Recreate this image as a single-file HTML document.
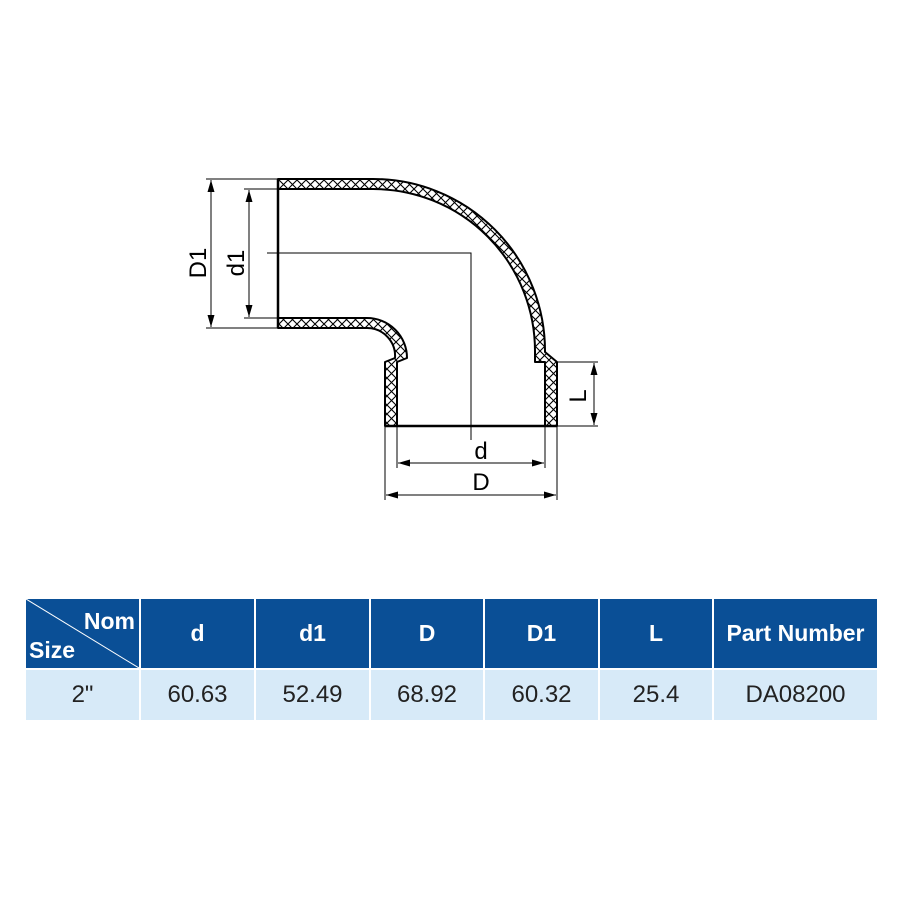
<!DOCTYPE html>
<html><head><style>
body{margin:0;background:#fff;}
.wrap{position:relative;width:900px;height:900px;overflow:hidden;font-family:"Liberation Sans",Arial,sans-serif;}
table{position:absolute;left:24px;top:597px;border-collapse:separate;border-spacing:2px;}
td{text-align:center;padding:0;}
.h td{background:#0a4f96;color:#fff;font-weight:bold;font-size:23px;height:69px;}
.r td{background:#d7eaf8;color:#222;font-size:24px;height:50px;}
</style></head><body><div class="wrap">
<svg width="900" height="590" style="position:absolute;left:0;top:0">
<defs>
<pattern id="x" width="9" height="9" patternUnits="userSpaceOnUse">
<rect width="9" height="9" fill="#fff"/>
<path d="M0,0L9,9M9,0L0,9" stroke="#000" stroke-width="1.1"/>
</pattern>
<marker id="a" markerWidth="12" markerHeight="7" refX="12" refY="3.5" orient="auto" markerUnits="userSpaceOnUse"><path d="M0,0L12,3.5L0,7Z" fill="#000"/></marker>
</defs>
<g stroke="#000" stroke-width="2" fill="url(#x)" stroke-linejoin="round">
<path d="M278,179 H373 A172 172 0 0 1 545,352 L557,362 V426 H545 V362 H535 V352 A162 162 0 0 0 373,189 H278 Z"/>
<path d="M278,318 H367 A40 40 0 0 1 407,358 L397,362 V426 H385 V362 L395,358 A28 28 0 0 0 367,328 H278 Z"/>
</g>
<g stroke="#000" stroke-width="2.5">
<line x1="278" y1="179" x2="278" y2="328"/>
<line x1="385" y1="426" x2="557" y2="426"/>
</g>
<g stroke="#000" stroke-width="1" fill="none">
<polyline points="267,253 471,253 471,440"/>
<line x1="206" y1="179" x2="278" y2="179"/>
<line x1="206" y1="328" x2="278" y2="328"/>
<line x1="244" y1="189" x2="278" y2="189"/>
<line x1="244" y1="318" x2="278" y2="318"/>
<line x1="557" y1="362" x2="598" y2="362"/>
<line x1="557" y1="426" x2="598" y2="426"/>
<line x1="385" y1="426" x2="385" y2="500"/>
<line x1="557" y1="426" x2="557" y2="500"/>
<line x1="397" y1="426" x2="397" y2="468"/>
<line x1="545" y1="426" x2="545" y2="468"/>
<line x1="211" y1="253" x2="211" y2="180" marker-end="url(#a)"/>
<line x1="211" y1="253" x2="211" y2="327" marker-end="url(#a)"/>
<line x1="249" y1="253" x2="249" y2="190" marker-end="url(#a)"/>
<line x1="249" y1="253" x2="249" y2="317" marker-end="url(#a)"/>
<line x1="594" y1="394" x2="594" y2="363" marker-end="url(#a)"/>
<line x1="594" y1="394" x2="594" y2="425" marker-end="url(#a)"/>
<line x1="471" y1="463" x2="398" y2="463" marker-end="url(#a)"/>
<line x1="471" y1="463" x2="544" y2="463" marker-end="url(#a)"/>
<line x1="471" y1="495" x2="386" y2="495" marker-end="url(#a)"/>
<line x1="471" y1="495" x2="556" y2="495" marker-end="url(#a)"/>
</g>
<g font-family="Liberation Sans, Arial, sans-serif" font-size="24" fill="#000" text-anchor="middle">
<text x="0" y="0" transform="translate(206,263) rotate(-90)">D1</text>
<text x="0" y="0" transform="translate(244,263) rotate(-90)">d1</text>
<text x="0" y="0" transform="translate(586,396) rotate(-90)">L</text>
<text x="481" y="459">d</text>
<text x="481" y="490">D</text>
</g>
</svg>
<table>
<tr class="h">
<td style="width:113px;position:relative;text-align:left"><svg width="113" height="69" style="position:absolute;left:0;top:0"><line x1="0" y1="0" x2="113" y2="69" stroke="#fff" stroke-width="1"/></svg><span style="position:absolute;right:4px;top:9px">Nom</span><span style="position:absolute;left:3px;bottom:4px">Size</span></td>
<td style="width:113px">d</td><td style="width:113px">d1</td><td style="width:112px">D</td><td style="width:113px">D1</td><td style="width:112px">L</td><td style="width:163px">Part Number</td>
</tr>
<tr class="r"><td>2"</td><td>60.63</td><td>52.49</td><td>68.92</td><td>60.32</td><td>25.4</td><td>DA08200</td></tr>
</table>
</div></body></html>
